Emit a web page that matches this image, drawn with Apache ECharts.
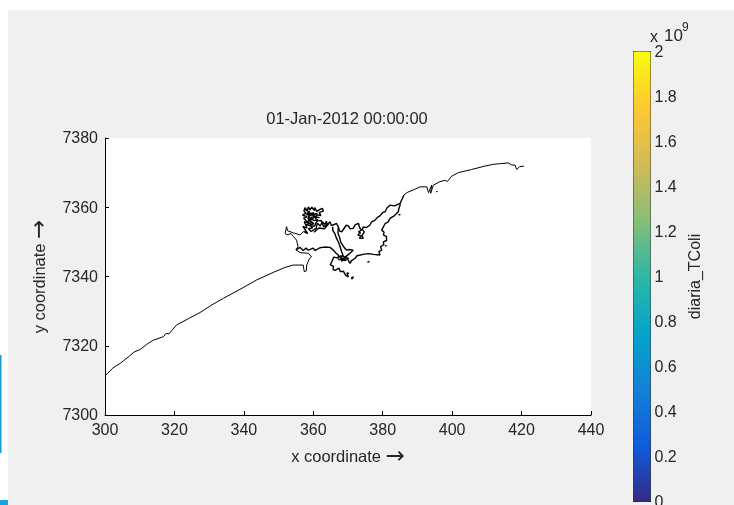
<!DOCTYPE html>
<html><head><meta charset="utf-8">
<style>html,body{margin:0;padding:0;background:#fff}#c{width:734px;height:505px}</style>
<script src="https://cdn.jsdelivr.net/npm/echarts@6/dist/echarts.min.js"></script>
</head><body><div id="c"></div>
<script>
const titleText = '01-Jan-2012 00:00:00';
const xName = 'x coordinate {arrow|→}';
const yName = 'y coordinate {arrow|→}';
const barName = 'diaria_TColi';
const barValue = [2];
const westCoast = [[300,7311.3],[302.3,7313.6],[304.5,7315],[307,7317],[308.4,7318.2],[310.1,7318.9],[312,7320.4],[313.9,7321.6],[316.8,7322.6],[317.6,7323.6],[318.4,7323.4],[320.6,7326],[324,7327.8],[327.4,7329.6],[330.8,7331.8],[334.1,7333.7],[338.9,7336.3],[343.7,7339],[348.5,7341.2],[351.8,7342.6],[354.2,7343.3],[357.1,7343.3],[357.4,7341.4],[358,7341.6],[358.1,7343.3],[358.9,7345.2],[359.5,7345.7],[358.6,7346.7],[356.2,7346.9],[355,7347.7],[355.6,7348.6],[355.2,7350.5],[354.3,7351.5],[353.6,7352.4],[352.3,7352],[351.9,7352.6],[351.4,7353],[352.3,7354.4],[352.6,7353.2],[354.3,7352.6],[356.2,7352],[357.2,7353]];
const northShore = [[357.2,7353],[358.4,7352.4],[357,7354.5],[358.2,7354],[357.4,7355.8],[358.6,7355.5],[357.2,7356.8],[358.2,7357.3],[356.9,7357.7],[357.9,7358.3],[357.3,7358.9],[357.6,7359.9],[358.2,7359],[358.6,7360.1],[359,7359.2],[359.6,7360],[360.3,7359],[360.4,7359.9],[361,7358.8],[361.8,7359.3],[362.6,7359.7],[362.9,7358.9],[361.7,7358.5],[362.2,7357.6],[361,7357.8],[360.6,7356.8],[361.4,7356.2],[360,7356.2],[359.4,7357.2],[359.2,7356],[358.2,7358.4],[359.4,7358],[358.4,7356.8],[360.2,7355.2],[359,7355],[359.8,7354],[358.6,7353.8],[359.4,7353],[360.8,7353.9],[361.2,7355.4],[362,7354.6],[362.6,7355.8],[363.4,7355],[363.8,7356],[364,7354.8],[364.8,7355.8],[365.2,7354.7],[366.7,7355.3],[367.2,7354.4],[367.6,7353.1],[368.2,7352.9],[368.6,7353.5],[369.1,7353.9],[369.5,7354.8],[370.1,7354.6],[370.6,7353.8],[371.5,7353.9],[372.1,7355],[373,7355.3],[373.4,7354],[373.9,7353.4],[373,7352.9],[373.6,7352.6],[372.8,7352],[373.7,7351.8],[373.3,7351],[374.4,7351],[374,7351.8],[374.7,7352.9],[374.1,7353.6],[374.4,7354.3],[375.2,7354.1],[376.3,7354.8],[376.8,7355.8],[377.8,7356.3],[378.4,7357],[379.2,7357.5],[380,7358.5],[380.7,7358.7],[381.2,7359.8],[382.1,7360.6],[383.4,7360.4],[385,7361.1],[385.6,7362.4],[386.1,7363.5]];
const blobFill = [[357.5,7359.4],[359,7358.6],[358,7357.9],[360.2,7358.4],[358.8,7357.6],[361.2,7358.2],[359.8,7357.4],[361.8,7357],[360.4,7357.2],[358.4,7355.9],[359.6,7355.6],[357.9,7355],[359.2,7354.6],[360.4,7354.6],[361,7356],[362.2,7356.2],[363,7354.4],[364.4,7355.2],[363.2,7353.8],[361.6,7354],[360.2,7352.8]];
const eastCoast = [[386.1,7363.5],[386.9,7364.2],[388.8,7365],[390.8,7365.9],[392.7,7365.9],[393.2,7364.2],[394.1,7366.4],[393.8,7364],[394.6,7366.4],[396.5,7367.4],[398,7367.8],[398.6,7367.4],[399.9,7369],[401.8,7370],[405.6,7370.9],[409.5,7371.9],[411.9,7372.4],[416.2,7372.8],[417.2,7372.2],[418.1,7372.2],[418.6,7370.9],[419.4,7371.7],[420.7,7371.9]];
const channelMid = [[365.6,7354.4],[365.6,7353.4],[366.2,7352.4],[366.7,7351],[367.4,7349.6],[368.2,7347.1],[368.7,7345.7]];
const channelEast = [[367.2,7354.2],[367.1,7352.6],[367.6,7351.2],[367.9,7350],[368.8,7348.5],[369.6,7347.6],[370.4,7347.8],[371.5,7347.6],[370.4,7346.6],[369.2,7345.6]];
const southInner = [[355,7347.7],[356.2,7348.4],[357.1,7347.5],[357.9,7348.2],[358.6,7347.6],[360,7348.2],[360.5,7347.5],[361.9,7348.3],[363.2,7348.5],[364.8,7348.4],[365.7,7347.7],[366.5,7346.8],[367.2,7346.2],[367.2,7345.3],[365.9,7345.6],[365.3,7344.2],[364.9,7343.4],[365.8,7342.9],[365.7,7342],[366.3,7341.8],[367.4,7342.4],[367.8,7341.4],[368.7,7341.5],[369.3,7340.4],[370.1,7339.9],[369.7,7341],[370.3,7340.9]];
const bayKnot = [[367.2,7345.3],[367.5,7345.9],[368.8,7344.6],[369.4,7345.6],[367.8,7346],[368.2,7344.4],[369,7345.4],[367.2,7344.8],[368.4,7345.2],[369.1,7344.6],[370.2,7345.2],[368.7,7345.7]];
const southEast = [[370,7344.8],[370.6,7343.8],[371,7344.6],[372,7345.2],[372.6,7346],[374.4,7346.4],[375.8,7346.6],[377.3,7346.4],[379.2,7346.2],[378.9,7347.2],[379.7,7347.6],[379.4,7348.6],[380.3,7349.2],[380.2,7350],[381.1,7350.4],[381.1,7351.5],[380.2,7352],[380.4,7352.8],[379.7,7353.4],[380.7,7355.3],[381.6,7355.8],[382.1,7356.8],[383.4,7357.6],[384.5,7358.7],[384.7,7359.8],[385,7360.6],[385,7361.1]];
const islandA = [[371,7339.2],[371.6,7339.9],[371.2,7340.3],[370.9,7339.6]];
const islandB = [[375.6,7344.1],[376.2,7344.4]];
const islandC = [[384.5,7357.8],[385.1,7357.9]];
const islandD = [[395.4,7364.5],[395.8,7364.6]];
const islandE = [[380.6,7348.8],[381.1,7349]];
const coastThin = [westCoast,eastCoast];
const coastThick = [northShore,blobFill,channelMid,channelEast,southInner,bayKnot,southEast,islandA,islandB,islandC,islandD,islandE];
const parula = ['#352a87','#0f5cdd','#1481d6','#06a4ca','#2eb7a4','#87bf77','#d1bb59','#fec832','#f9fb0e'];

const font = 'Liberation Sans';
const textColor = '#262626';
const plainNumber = v => '{v|' + String(Math.round(v*10)/10) + '}';
const numStyle = {fontFamily:font,fontSize:16,color:textColor};
const nameStyle = {fontFamily:font,fontSize:16.5,color:textColor,rich:{arrow:{fontFamily:'DejaVu Sans',fontSize:23,color:textColor}}};
const chart = echarts.init(document.getElementById('c'), null, {renderer:'canvas'});
const coastSeries = (d,w) => ({type:'line',xAxisIndex:0,yAxisIndex:0,data:d,showSymbol:false,silent:true,smooth:false,z:3,lineStyle:{color:'#000',width:w}});
chart.setOption({
  animation:false,
  backgroundColor:'#ffffff',
  title:{text:titleText,left:342,top:106,textAlign:'center',textStyle:{fontFamily:font,fontSize:16.5,fontWeight:'normal',color:textColor}},
  graphic:[
    {type:'rect',z:-10,shape:{x:8,y:10,width:726,height:495},style:{fill:'#f0f0f0'}},
    {type:'rect',z:-10,shape:{x:0,y:500,width:8,height:5},style:{fill:'#1ba1e2'}},
    {type:'rect',z:-10,shape:{x:0,y:355,width:1.5,height:98},style:{fill:'#1a9ad6'}},
    {type:'text',z:10,style:{x:650,y:30,text:'x',fontFamily:font,fontSize:16,fill:textColor}},
    {type:'text',z:10,style:{x:664,y:28,text:'10',fontFamily:font,fontSize:17,fill:textColor}},
    {type:'text',z:10,style:{x:682,y:22,text:'9',fontFamily:font,fontSize:12,fill:textColor}}
  ],
  grid:[
    {left:105,top:138,width:486,height:277,show:true,backgroundColor:'#ffffff',borderWidth:0,outerBoundsMode:'none'},
    {left:633.5,top:51.5,width:17,height:450,show:false,outerBoundsMode:'none'}
  ],
  xAxis:[
    {gridIndex:0,type:'value',min:300,max:440,interval:20,name:xName,nameLocation:'middle',nameGap:31,
     nameTextStyle:nameStyle,
     axisLine:{show:true,onZero:false,lineStyle:{color:'#000',width:1}},
     axisTick:{show:true,inside:true,length:4,lineStyle:{color:'#000'}},
     axisLabel:{formatter:plainNumber,rich:{v:numStyle},margin:8,showMinLabel:true,showMaxLabel:true,hideOverlap:false},
     splitLine:{show:false}},
    {gridIndex:1,type:'category',data:[''],axisLine:{show:true,onZero:false,lineStyle:{color:'#333'}},axisTick:{show:false},axisLabel:{show:false},splitLine:{show:false}},
    {gridIndex:1,type:'category',position:'top',data:[''],axisLine:{show:true,onZero:false,lineStyle:{color:'#333'}},axisTick:{show:false},axisLabel:{show:false},splitLine:{show:false}}
  ],
  yAxis:[
    {gridIndex:0,type:'value',min:7300,max:7380,interval:20,name:yName,nameLocation:'middle',nameGap:42,
     nameTextStyle:nameStyle,
     axisLine:{show:true,onZero:false,lineStyle:{color:'#000',width:1}},
     axisTick:{show:true,inside:true,length:4,lineStyle:{color:'#000'}},
     axisLabel:{formatter:plainNumber,rich:{v:{...numStyle,padding:[2,0,0,0]}},margin:7,showMinLabel:true,showMaxLabel:true,hideOverlap:false},
     splitLine:{show:false}},
    {gridIndex:1,type:'value',position:'right',min:0,max:2,interval:0.2,name:barName,nameLocation:'middle',nameGap:37,
     nameTextStyle:{fontFamily:font,fontSize:16,color:textColor},
     axisLine:{show:true,lineStyle:{color:'#333'}},
     axisTick:{show:true,inside:true,length:4,lineStyle:{color:'#111'}},
     axisLabel:{formatter:plainNumber,rich:{v:{...numStyle,padding:[2,0,0,0]}},margin:4,showMinLabel:true,showMaxLabel:true,hideOverlap:false},
     splitLine:{show:false}},
    {gridIndex:1,type:'value',position:'left',min:0,max:2,interval:0.2,
     axisLine:{show:true,lineStyle:{color:'#333'}},
     axisTick:{show:true,inside:true,length:4,lineStyle:{color:'#111'}},
     axisLabel:{show:false},splitLine:{show:false}}
  ],
  series:[
    ...coastThin.map(d=>coastSeries(d,1)),
    ...coastThick.map(d=>coastSeries(d,1.4)),
    {type:'bar',xAxisIndex:1,yAxisIndex:1,data:barValue,barWidth:'100%',silent:true,z:1,
     itemStyle:{color:new echarts.graphic.LinearGradient(0,1,0,0,parula.map((c,i)=>({offset:i/(parula.length-1),color:c})))}}
  ]
});
</script></body></html>
